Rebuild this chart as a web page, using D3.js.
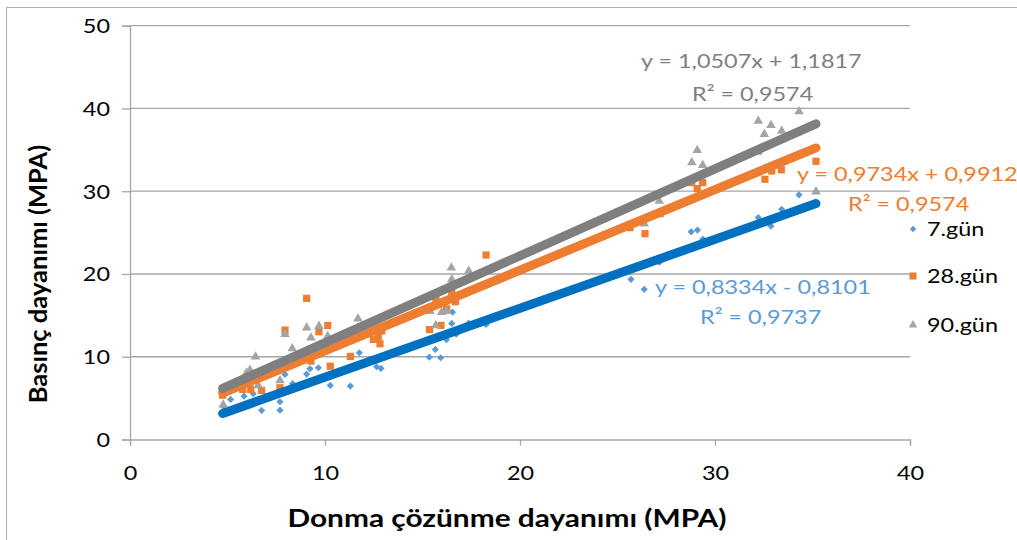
<!DOCTYPE html>
<html>
<head>
<meta charset="utf-8">
<script src="https://cdn.jsdelivr.net/npm/d3@7"></script>
<style>
  html, body { margin: 0; padding: 0; background: #fff; }
  svg { display: block; font-family: Lato, "Open Sans", sans-serif; }
</style>
</head>
<body>
<svg id="chart" width="1017" height="540"></svg>
<script>
// Freeze-thaw strength (x) vs compressive strength (y), MPa
const seriesNames = ["7.gün", "28.gün", "90.gün"];

const x7 = [4.78, 5.16, 5.85, 6.32, 6.75, 7.69, 7.69, 7.95, 8.34, 9.06, 9.23, 9.66, 10.27, 11.30, 11.76, 12.65, 12.87,
  15.35, 15.93, 15.66, 16.23, 16.50, 16.54, 16.73, 17.37, 18.26, 25.69, 26.37, 27.15, 28.78, 29.10, 29.38, 32.22, 32.87, 33.42, 34.31];
const y7 = [4.03, 4.84, 5.24, 5.53, 3.51, 4.56, 3.54, 7.86, 6.74, 7.90, 8.55, 8.67, 6.53, 6.45, 10.48, 8.79, 8.59,
  9.95, 9.88, 10.88, 12.06, 14.03, 15.39, 12.73, 14.06, 13.91, 19.35, 18.14, 21.43, 25.09, 25.31, 24.22, 26.81, 25.79, 27.81, 29.56];

const x28 = [4.75, 5.78, 6.19, 6.75, 7.69, 7.95, 9.06, 9.28, 9.69, 10.14, 10.27, 11.30, 12.48, 12.73, 12.82, 12.91,
  15.36, 15.95, 16.24, 15.69, 16.69, 16.50, 18.26, 25.64, 26.41, 27.18, 28.81, 29.37, 29.09, 32.22, 32.56, 32.91, 33.40, 35.18];
const y28 = [5.36, 6.05, 6.05, 5.93, 6.25, 13.22, 17.05, 9.47, 13.02, 13.78, 8.86, 10.04, 12.09, 12.37, 11.57, 13.10,
  13.28, 13.78, 15.78, 16.87, 16.65, 17.74, 22.29, 25.60, 24.87, 27.29, 31.04, 31.04, 30.31, 34.86, 31.44, 32.44, 32.59, 33.62];

const x90 = [4.78, 5.98, 6.15, 6.44, 6.58, 7.69, 7.95, 8.32, 9.06, 9.28, 9.69, 10.14, 11.69, 15.38, 15.68, 15.98, 16.24,
  16.48, 16.50, 17.37, 26.37, 27.14, 28.81, 29.09, 29.37, 32.22, 32.53, 32.87, 33.42, 34.31, 35.18];
const y90 = [4.20, 8.07, 8.38, 10.00, 6.53, 7.13, 12.73, 11.00, 13.51, 12.30, 13.70, 12.49, 14.59, 15.51, 13.78, 15.39, 15.51,
  20.76, 19.35, 20.35, 26.08, 28.82, 33.46, 34.95, 33.13, 38.49, 36.88, 37.97, 37.28, 39.63, 29.95];

// Linear trendline coefficients and labels
const slopes = [0.8334, 0.9734, 1.0507];
const intercepts = [-0.8101, 0.9912, 1.1817];
const eqLabels = ["y = 0,8334x - 0,8101", "y = 0,9734x + 0,9912", "y = 1,0507x + 1,1817"];
const r2Labels = ["R² = 0,9737", "R² = 0,9574", "R² = 0,9574"];
const trendRange = [4.75, 35.18];

const xTicks = [0, 10, 20, 30, 40];
const yTicks = [0, 10, 20, 30, 40, 50];

const markerColors = ["#5B9BD5", "#ED7D31", "#A5A5A5"];
const lineColors = ["#0070C0", "#ED7D31", "#7F7F7F"];
const labelColors = ["#5B9BD5", "#ED7D31", "#7F7F7F"];

// text is set a little wider than the font's natural advance
const WIDEN = 1.17;
function widen(sel) {
  sel.each(function () {
    const w = this.getComputedTextLength();
    d3.select(this).attr("textLength", w * WIDEN).attr("lengthAdjust", "spacingAndGlyphs");
  });
  return sel;
}

const svg = d3.select("#chart");

// chart frame
svg.append("rect").attr("x", 6.5).attr("y", 7.5).attr("width", 1030).attr("height", 560)
  .attr("fill", "#fff").attr("stroke", "#B0B0B0").attr("stroke-width", 1);

const x = d3.scaleLinear().domain([0, 40]).range([130, 910]);
const y = d3.scaleLinear().domain([0, 50]).range([439.5, 25.7]);

// gridlines
svg.append("g").selectAll("line").data(yTicks.filter(d => d > 0)).join("line")
  .attr("x1", x(0)).attr("x2", x(40)).attr("y1", d => y(d)).attr("y2", d => y(d))
  .attr("stroke", "#A6A6A6").attr("stroke-width", 1.3);

// axes
const xAxis = svg.append("g").attr("transform", `translate(0,${y(0)})`)
  .call(d3.axisBottom(x).tickValues(xTicks).tickSize(6).tickPadding(20));
const yAxis = svg.append("g").attr("transform", `translate(${x(0)},0)`)
  .call(d3.axisLeft(y).tickValues(yTicks).tickSize(8).tickPadding(12));
[xAxis, yAxis].forEach(a => {
  a.select(".domain").attr("stroke", "#A6A6A6").attr("stroke-width", 1.3);
  a.selectAll(".tick line").attr("stroke", "#A6A6A6").attr("stroke-width", 1.3);
  a.selectAll(".tick text").attr("fill", "#000").style("font-size", "20px")
    .style("font-family", "Lato, 'Open Sans', sans-serif");
  widen(a.selectAll(".tick text"));
});
yAxis.selectAll(".tick text").attr("dy", "0.35em");

// axis titles
widen(svg.append("text").attr("x", 507).attr("y", 527).attr("text-anchor", "middle")
  .style("font-size", "25.5px").style("font-weight", "bold").text("Donma çözünme dayanımı (MPA)"));
svg.append("text").attr("transform", "translate(47,274) rotate(-90)").attr("text-anchor", "middle")
  .style("font-size", "25.5px").style("font-weight", "bold").text("Basınç dayanımı (MPA)");

// marker shapes
const symbols = [
  { gen: d3.symbol().type(d3.symbolSquare).size(26), rot: 45 },
  { gen: d3.symbol().type(d3.symbolSquare).size(52), rot: 0 },
  { gen: d3.symbol().type(d3.symbolTriangle).size(40), rot: 0 }
];

const seriesData = [
  x7.map((v, i) => [v, y7[i]]),
  x28.map((v, i) => [v, y28[i]]),
  x90.map((v, i) => [v, y90[i]])
];

// scatter points
seriesData.forEach((pts, s) => {
  svg.append("g").selectAll("path").data(pts).join("path")
    .attr("d", symbols[s].gen)
    .attr("transform", d => `translate(${x(d[0])},${y(d[1])}) rotate(${symbols[s].rot})`)
    .attr("fill", markerColors[s]);
});

// trendlines
slopes.forEach((m, s) => {
  const pts = trendRange.map(v => [v, m * v + intercepts[s]]);
  svg.append("path").datum(pts)
    .attr("d", d3.line().x(d => x(d[0])).y(d => y(d[1])))
    .attr("stroke", lineColors[s]).attr("stroke-width", 9)
    .attr("stroke-linecap", "round").attr("fill", "none");
});

// trendline equations
const eqPos = [[655, 294, 700, 324], [797, 181, 848, 211], [641, 68, 692, 101]];
eqPos.forEach((p, s) => {
  widen(svg.append("text").attr("x", p[0]).attr("y", p[1]).attr("fill", labelColors[s])
    .style("font-size", "20px").text(eqLabels[s]));
  widen(svg.append("text").attr("x", p[2]).attr("y", p[3]).attr("fill", labelColors[s])
    .style("font-size", "20px").text(r2Labels[s]));
});

// legend
const legendY = [229, 276, 325];
const legendSymbols = [
  { gen: d3.symbol().type(d3.symbolSquare).size(20), rot: 45 },
  { gen: d3.symbol().type(d3.symbolSquare).size(50), rot: 0 },
  { gen: d3.symbol().type(d3.symbolTriangle).size(32), rot: 0 }
];
seriesNames.forEach((name, s) => {
  svg.append("path").attr("d", legendSymbols[s].gen)
    .attr("transform", `translate(913,${legendY[s]}) rotate(${legendSymbols[s].rot})`).attr("fill", markerColors[s]);
  widen(svg.append("text").attr("x", 927).attr("y", legendY[s]).attr("dy", "0.35em")
    .style("font-size", "20px").attr("fill", "#000").text(name));
});
</script>
</body>
</html>
